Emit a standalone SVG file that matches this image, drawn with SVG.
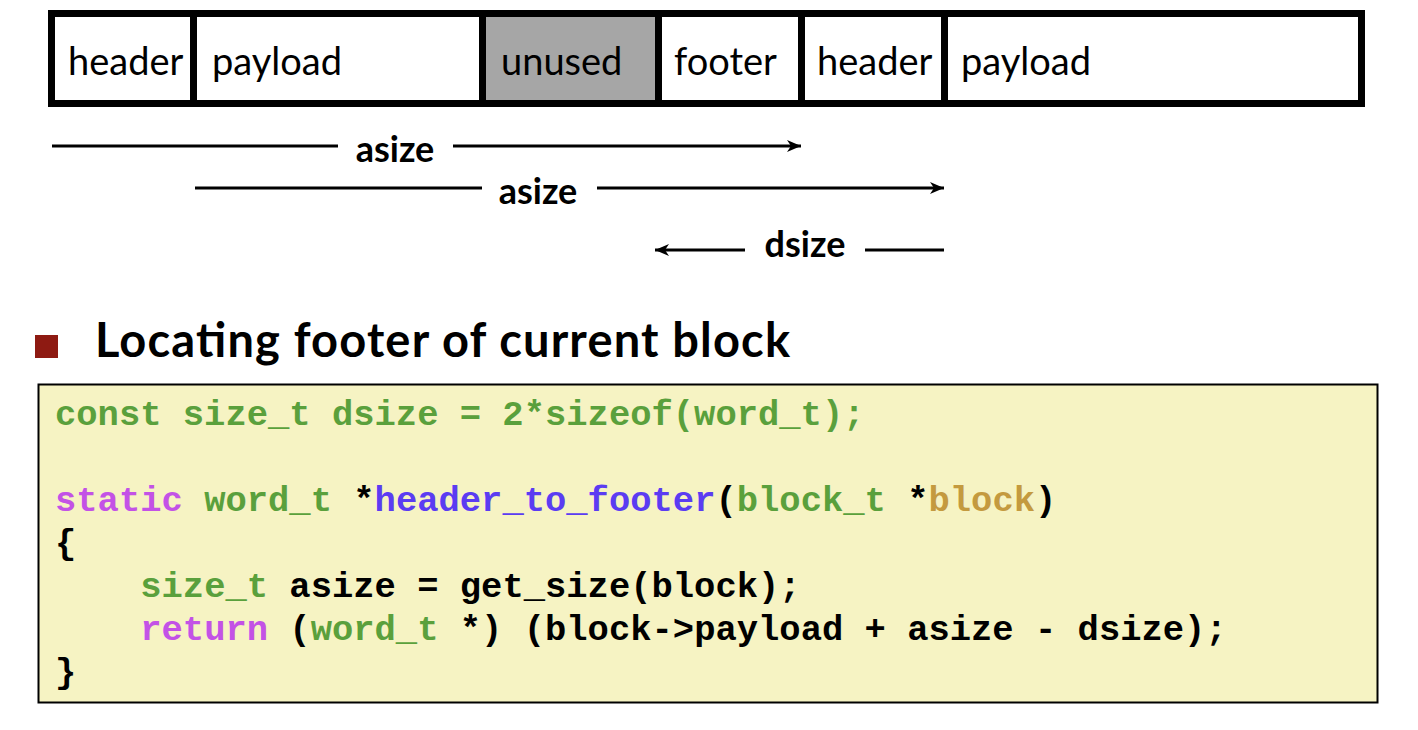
<svg xmlns="http://www.w3.org/2000/svg" width="1418" height="730" viewBox="0 0 1418 730">
  <defs>
    <marker id="head" markerUnits="userSpaceOnUse" markerWidth="16" markerHeight="14" refX="14" refY="7" orient="auto-start-reverse">
      <path d="M0,1 L14,7 L0,13 L4,7 z" fill="#000"/>
    </marker>
    <style>
      .cell { stroke: #000; stroke-width: 7; }
      .lbl { font-family: Lato, "Liberation Sans", sans-serif; font-size: 38px; fill: #000; }
      .dim { font-family: Lato, "Liberation Sans", sans-serif; font-size: 36px; font-weight: bold; fill: #000; text-anchor: middle; }
      .conn { stroke: #000; stroke-width: 3; fill: none; }
      .code { font-family: "Liberation Mono", "Courier New", monospace; font-size: 35.5px; font-weight: bold; fill: #000; }
      .g { fill: #5aa03c; }
      .m { fill: #c352e6; }
      .b { fill: #5b3cf2; }
      .y { fill: #c49a3f; }
    </style>
  </defs>

  <!-- heap block layout -->
  <g id="block-header-1">
    <rect class="cell" x="51.5" y="13.5" width="142" height="90" fill="#fff"/>
    <text class="lbl" x="68" y="75">header</text>
  </g>
  <g id="block-payload-1">
    <rect class="cell" x="193.5" y="13.5" width="289" height="90" fill="#fff"/>
    <text class="lbl" x="212" y="75">payload</text>
  </g>
  <g id="block-unused">
    <rect class="cell" x="482.5" y="13.5" width="176" height="90" fill="#a6a6a6"/>
    <text class="lbl" x="501" y="75">unused</text>
  </g>
  <g id="block-footer">
    <rect class="cell" x="658.5" y="13.5" width="143" height="90" fill="#fff"/>
    <text class="lbl" x="674" y="75">footer</text>
  </g>
  <g id="block-header-2">
    <rect class="cell" x="801.5" y="13.5" width="143" height="90" fill="#fff"/>
    <text class="lbl" x="817" y="75">header</text>
  </g>
  <g id="block-payload-2">
    <rect class="cell" x="944.5" y="13.5" width="417" height="90" fill="#fff"/>
    <text class="lbl" x="961" y="75">payload</text>
  </g>

  <!-- size spans -->
  <g id="connectors">
    <line class="conn" x1="52" y1="146" x2="338" y2="146"/>
    <line class="conn" x1="453" y1="146" x2="801" y2="146" marker-end="url(#head)"/>
    <line class="conn" x1="195" y1="188" x2="482" y2="188"/>
    <line class="conn" x1="597" y1="188" x2="944" y2="188" marker-end="url(#head)"/>
    <line class="conn" x1="655" y1="250" x2="745" y2="250" marker-start="url(#head)"/>
    <line class="conn" x1="865" y1="250" x2="944" y2="250"/>
  </g>
  <g id="dim-labels">
    <text class="dim" x="395" y="162">asize</text>
    <text class="dim" x="538" y="204">asize</text>
    <text class="dim" x="805" y="257">dsize</text>
  </g>

  <!-- bullet heading -->
  <g id="heading">
    <rect x="35" y="335" width="23" height="23" fill="#8e1a12"/>
    <text x="95" y="357" font-family="Lato, 'Liberation Sans', sans-serif" font-size="47" font-weight="bold" fill="#000" textLength="695" lengthAdjust="spacing">Locating footer of current block</text>
  </g>

  <!-- code listing -->
  <g id="code-box">
    <rect x="38.5" y="384.5" width="1339" height="318" fill="#f6f3c3" stroke="#000" stroke-width="2"/>
    <text class="code" xml:space="preserve" x="55" y="425"><tspan class="g">const size_t dsize = 2*sizeof(word_t);</tspan></text>
    <text class="code" xml:space="preserve" x="55" y="511"><tspan class="m">static</tspan> <tspan class="g">word_t</tspan> *<tspan class="b">header_to_footer</tspan>(<tspan class="g">block_t</tspan> *<tspan class="y">block</tspan>)</text>
    <text class="code" xml:space="preserve" x="55" y="554">{</text>
    <text class="code" xml:space="preserve" x="55" y="597">    <tspan class="g">size_t</tspan> asize = get_size(block);</text>
    <text class="code" xml:space="preserve" x="55" y="640">    <tspan class="m">return</tspan> (<tspan class="g">word_t</tspan> *) (block-&gt;payload + asize - dsize);</text>
    <text class="code" xml:space="preserve" x="55" y="683">}</text>
  </g>
</svg>
